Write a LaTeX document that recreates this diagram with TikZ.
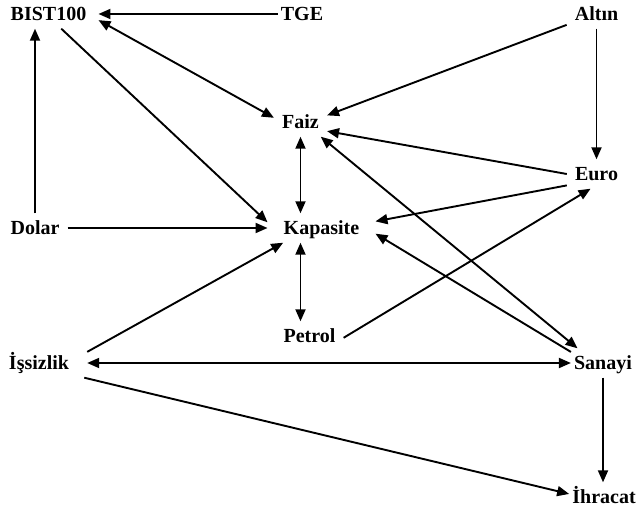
\documentclass[tikz,border=0pt]{standalone}
\usepackage{fontspec}
\setmainfont{Liberation Serif}
\usetikzlibrary{arrows.meta}
\begin{document}
\begin{tikzpicture}[x=1pt,y=-1pt,
        degisken/.style={font=\fontsize{20}{24}\selectfont\bfseries, text height=13pt, text depth=0pt, inner ysep=8pt},
        ok/.style={-{Triangle[length=12pt,width=10pt]}, line width=1.9pt},
        ciftok/.style={{Triangle[length=12pt,width=10pt]}-{Triangle[length=12pt,width=10pt]}, line width=1.9pt}]
        \useasboundingbox (0,0) rectangle (636,511);

        % Degiskenler: {isim/x/y/bosluk/etiket}
        \foreach \isim/\px/\py/\bosluk/\etiket in {bist/48.5/14/12pt/BIST100, tge/302/14/3pt/TGE, altin/596.5/14/8pt/Altın,
            faiz/300.5/122/8pt/Faiz, euro/596.5/174/8pt/Euro, dolar/35/228/8pt/Dolar, kap/321.5/228/16pt/Kapasite,
            petrol/309.5/336/8pt/Petrol, issiz/39/363/18pt/İşsizlik, sanayi/603/363/3pt/Sanayi, ihracat/604/497/3pt/İhracat} {
            \node[degisken, inner xsep=\bosluk] (\isim) at (\px,\py) {\etiket};
        }

        % Tek yonlu oklar
        \foreach \a/\b in {tge.west/bist.east, bist.-49/kap.174, dolar/kap, issiz.13/kap.201, altin.200/faiz.14,
            altin/euro, euro.west/faiz.-19, euro.201/kap.7, petrol.-3/euro.248, sanayi.161/kap.-6, issiz.-18/ihracat.175} {
            \draw[ok] (\a) -- (\b);
        }
        \draw[ok] (dolar.north) -- (dolar.north |- bist.south);
        \draw[ok] (sanayi.south) -- (sanayi.south |- ihracat.north);

        % Cift yonlu oklar
        \draw[ciftok] (bist.-7) -- (faiz.171);
        \draw[ciftok] (faiz.south) -- (faiz.south |- kap.north);
        \draw[ciftok] (faiz.south |- kap.south) -- (faiz.south |- petrol.north);
        \draw[ciftok] (faiz.-36) -- (sanayi.150);
        \draw[ciftok] (issiz) -- (sanayi);
    \end{tikzpicture}
\end{document}
